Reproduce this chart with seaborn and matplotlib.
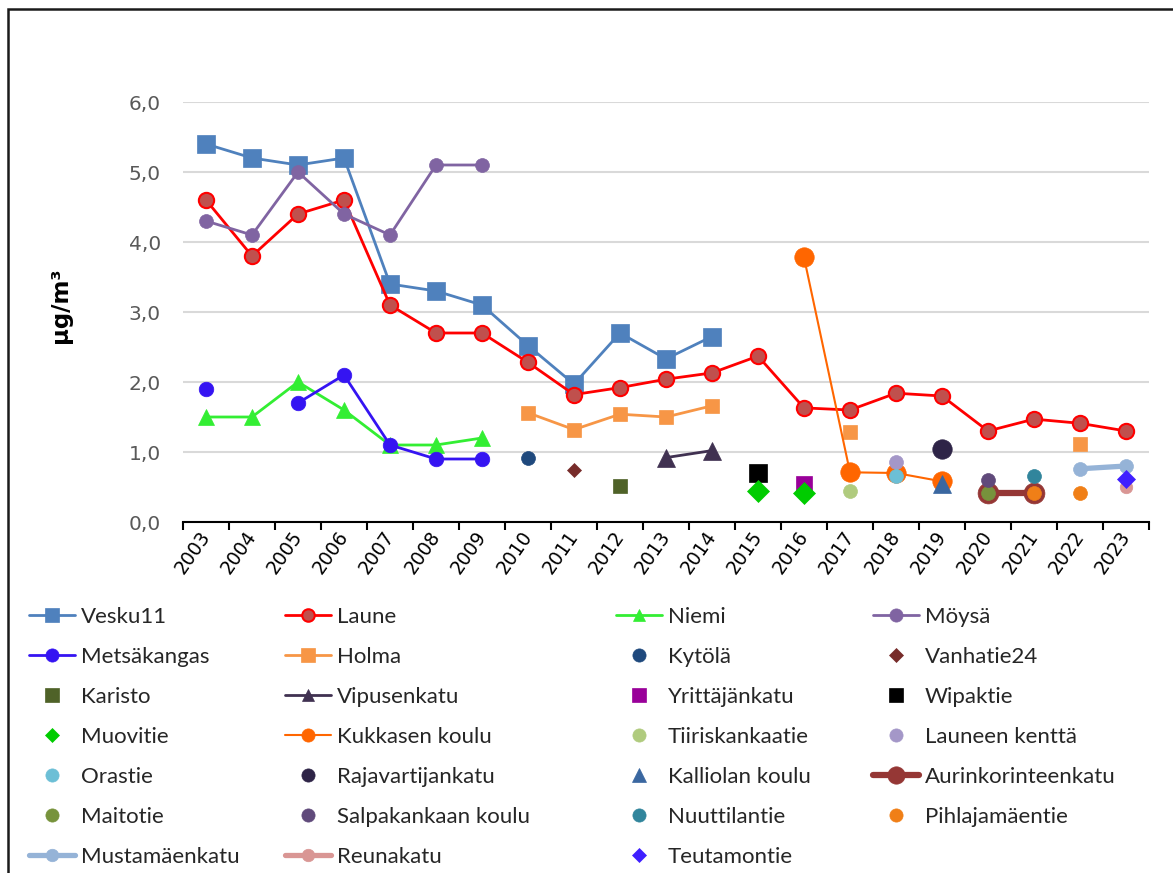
import numpy as np
import matplotlib.pyplot as plt
import seaborn as sns
from matplotlib.lines import Line2D
from matplotlib.patches import Rectangle
from matplotlib.ticker import FixedLocator, FuncFormatter

n = np.nan
years = list(range(2003, 2024))

# annual means, ug/m3 (one value per year 2003..2023, nan = no measurement)
vesku11 = [5.4, 5.2, 5.1, 5.2, 3.4, 3.3, 3.1, 2.52, 1.97, 2.7, 2.33, 2.65, n, n, n, n, n, n, n, n, n]
laune = [4.6, 3.8, 4.4, 4.6, 3.1, 2.7, 2.7, 2.28, 1.82, 1.92, 2.04, 2.13, 2.37, 1.63, 1.6, 1.84, 1.8, 1.3, 1.47, 1.41, 1.3]
niemi = [1.5, 1.5, 2.0, 1.6, 1.1, 1.1, 1.2, n, n, n, n, n, n, n, n, n, n, n, n, n, n]
moysa = [4.3, 4.1, 5.0, 4.4, 4.1, 5.1, 5.1, n, n, n, n, n, n, n, n, n, n, n, n, n, n]
metsakangas = [1.9, n, 1.7, 2.1, 1.1, 0.9, 0.9, n, n, n, n, n, n, n, n, n, n, n, n, n, n]
holma = [n, n, n, n, n, n, n, 1.56, 1.32, 1.54, 1.5, 1.66, n, n, 1.28, n, n, n, n, 1.12, n]
kytola = [n, n, n, n, n, n, n, 0.92, n, n, n, n, n, n, n, n, n, n, n, n, n]
vanhatie24 = [n, n, n, n, n, n, n, n, 0.74, n, n, n, n, n, n, n, n, n, n, n, n]
karisto = [n, n, n, n, n, n, n, n, n, 0.52, n, n, n, n, n, n, n, n, n, n, n]
vipusenkatu = [n, n, n, n, n, n, n, n, n, n, 0.92, 1.02, n, n, n, n, n, n, n, n, n]
yrittajankatu = [n, n, n, n, n, n, n, n, n, n, n, n, n, 0.54, n, n, n, n, n, n, n]
wipaktie = [n, n, n, n, n, n, n, n, n, n, n, n, 0.7, n, n, n, n, n, n, n, n]
muovitie = [n, n, n, n, n, n, n, n, n, n, n, n, 0.44, 0.42, n, n, n, n, n, n, n]
kukkasen = [n, n, n, n, n, n, n, n, n, n, n, n, n, 3.78, 0.71, 0.7, 0.58, n, n, n, n]
tiiriskankaatie = [n, n, n, n, n, n, n, n, n, n, n, n, n, n, 0.44, n, n, n, n, n, n]
launeen_kentta = [n, n, n, n, n, n, n, n, n, n, n, n, n, n, n, 0.86, n, n, n, n, n]
orastie = [n, n, n, n, n, n, n, n, n, n, n, n, n, n, n, 0.66, n, n, n, n, n]
rajavartijankatu = [n, n, n, n, n, n, n, n, n, n, n, n, n, n, n, n, 1.05, n, n, n, n]
kalliolan = [n, n, n, n, n, n, n, n, n, n, n, n, n, n, n, n, 0.55, n, n, n, n]
aurinkorinteenkatu = [n, n, n, n, n, n, n, n, n, n, n, n, n, n, n, n, n, 0.41, 0.41, n, n]
maitotie = [n, n, n, n, n, n, n, n, n, n, n, n, n, n, n, n, n, 0.41, n, n, n]
salpakankaan = [n, n, n, n, n, n, n, n, n, n, n, n, n, n, n, n, n, 0.6, n, n, n]
nuuttilantie = [n, n, n, n, n, n, n, n, n, n, n, n, n, n, n, n, n, n, 0.66, n, n]
pihlajamaentie = [n, n, n, n, n, n, n, n, n, n, n, n, n, n, n, n, n, n, 0.42, 0.41, n]
mustamaenkatu = [n, n, n, n, n, n, n, n, n, n, n, n, n, n, n, n, n, n, n, 0.76, 0.8]
reunakatu = [n, n, n, n, n, n, n, n, n, n, n, n, n, n, n, n, n, n, n, n, 0.5]
teutamontie = [n, n, n, n, n, n, n, n, n, n, n, n, n, n, n, n, n, n, n, n, 0.61]

# name, data, color, marker, markersize, linewidth, face, edge, legend markersize
series = [
    ("Vesku11", vesku11, "#4F81BD", "s", 13, 2, "#4F81BD", "#4F81BD", 9.5),
    ("Laune", laune, "#FF0000", "o", 11, 2, "#C0504D", "#FF0000", 9),
    ("Niemi", niemi, "#33EE33", "^", 12, 2, "#33EE33", "#33EE33", 9),
    ("Möysä", moysa, "#8064A2", "o", 10, 2, "#8064A2", "#8064A2", 9.5),
    ("Metsäkangas", metsakangas, "#3514F2", "o", 10.5, 2, "#3514F2", "#3514F2", 9.5),
    ("Holma", holma, "#F79646", "s", 10, 2, "#F79646", "#F79646", 9.5),
    ("Kytölä", kytola, "#1F497D", "o", 10, 0, "#1F497D", "#1F497D", 9.5),
    ("Vanhatie24", vanhatie24, "#772C2A", "D", 7.5, 0, "#772C2A", "#772C2A", 7),
    ("Karisto", karisto, "#4F6228", "s", 10, 0, "#4F6228", "#4F6228", 9.5),
    ("Vipusenkatu", vipusenkatu, "#403151", "^", 13, 2, "#403151", "#403151", 9),
    ("Yrittäjänkatu", yrittajankatu, "#990099", "s", 11, 0, "#990099", "#990099", 9.5),
    ("Wipaktie", wipaktie, "#000000", "s", 13, 0, "#000000", "#000000", 9.5),
    ("Muovitie", muovitie, "#00CC00", "D", 11, 0, "#00CC00", "#00CC00", 7.5),
    ("Kukkasen koulu", kukkasen, "#FF6600", "o", 14, 1.5, "#FF6600", "#FF6600", 9.5),
    ("Tiiriskankaatie", tiiriskankaatie, "#B0CB7E", "o", 10, 0, "#B0CB7E", "#B0CB7E", 9.5),
    ("Launeen kenttä", launeen_kentta, "#A497C8", "o", 10, 0, "#A497C8", "#A497C8", 9.5),
    ("Orastie", orastie, "#6CBFD6", "o", 10, 0, "#6CBFD6", "#6CBFD6", 9.5),
    ("Rajavartijankatu", rajavartijankatu, "#2E2447", "o", 14, 0, "#2E2447", "#2E2447", 9.5),
    ("Kalliolan koulu", kalliolan, "#3A67A0", "^", 13, 0, "#3A67A0", "#3A67A0", 9.5),
    ("Aurinkorinteenkatu", aurinkorinteenkatu, "#953735", "o", 15, 4.5, "#953735", "#953735", 12.5),
    ("Maitotie", maitotie, "#77933C", "o", 10, 0, "#77933C", "#77933C", 9.5),
    ("Salpakankaan koulu", salpakankaan, "#604A7B", "o", 10, 0, "#604A7B", "#604A7B", 9.5),
    ("Nuuttilantie", nuuttilantie, "#31859C", "o", 10, 0, "#31859C", "#31859C", 9.5),
    ("Pihlajamäentie", pihlajamaentie, "#F07F17", "o", 10, 0, "#F07F17", "#F07F17", 9.5),
    ("Mustamäenkatu", mustamaenkatu, "#95B3D7", "o", 10, 3.8, "#95B3D7", "#95B3D7", 9),
    ("Reunakatu", reunakatu, "#D99694", "o", 9, 3.8, "#D99694", "#D99694", 9),
    ("Teutamontie", teutamontie, "#3F1FFF", "D", 9, 0, "#3F1FFF", "#3F1FFF", 7),
]

sns.set_theme(style="white")
plt.rcParams["font.family"] = ["DejaVu Sans"]

W, H = 1173, 873
fig = plt.figure(figsize=(W / 100, H / 100), dpi=100)
ax = fig.add_axes([183 / W, 1 - 522 / H, 966 / W, 420 / H])

xpos = np.arange(len(years))
for i, (name, vals, col, mk, ms, lw, mfc, mec, lms) in enumerate(series):
    v = np.array(vals, dtype=float)
    idx = np.where(~np.isnan(v))[0]
    runs = np.split(idx, np.where(np.diff(idx) > 1)[0] + 1)
    for r in runs:
        sns.lineplot(x=xpos[r], y=v[r], ax=ax, color=col, linewidth=lw,
                     marker=mk, markersize=ms, markerfacecolor=mfc,
                     markeredgecolor=mec, markeredgewidth=1.5 if name == "Laune" else 0.5,
                     zorder=3 + i, legend=False)

ax.set_xlim(-0.5, len(years) - 0.5)
ax.set_ylim(0, 6)
ax.set_yticks(np.arange(0, 6.1, 1.0))
ax.yaxis.set_major_formatter(FuncFormatter(lambda v, p: f"{v:.1f}".replace(".", ",")))
ax.tick_params(axis="y", length=0, pad=16, labelsize=14.5, labelcolor="#595959")
ax.yaxis.grid(True, color="#D9D9D9", linewidth=1.5)
ax.set_axisbelow(True)

ax.xaxis.set_major_locator(FixedLocator(np.arange(-0.5, len(years), 1.0)))
ax.xaxis.set_minor_locator(FixedLocator(xpos))
ax.xaxis.set_major_formatter(FuncFormatter(lambda v, p: ""))
ax.set_xticks(xpos, [str(y) for y in years], minor=True)
ax.tick_params(axis="x", which="major", direction="out", length=6, width=1.5, color="black", bottom=True)
ax.tick_params(axis="x", which="minor", length=0, pad=8, labelsize=13.5, labelcolor="#000000", bottom=True)
for lab in ax.get_xticklabels(minor=True):
    lab.set_rotation(55)
    lab.set_ha("right")
    lab.set_va("center")
    lab.set_rotation_mode("anchor")

for s in ["left", "right", "top"]:
    ax.spines[s].set_visible(False)
ax.spines["bottom"].set_color("black")
ax.spines["bottom"].set_linewidth(1.5)

ax.set_ylabel("µg/m³", fontsize=16.5, fontweight="bold", color="black")
ax.yaxis.set_label_coords(-(183 - 72) / 966, (522 - 305) / 420)

# legend: four columns placed like the original
handles = []
for name, vals, col, mk, ms, lw, mfc, mec, lms in series:
    handles.append(Line2D([], [], color=col, linewidth=lw if lw > 0 else 0,
                          linestyle="-" if lw > 0 else "none", marker=mk,
                          markersize=lms, markerfacecolor=mfc, markeredgecolor=mec,
                          markeredgewidth=1.5 if name == "Laune" else 0.5))
labels = [s[0] for s in series]
col_x = [29, 285, 616, 873]
top_y = 607
for c in range(4):
    hs = handles[c::4]
    ls = labels[c::4]
    leg = fig.legend(hs, ls, loc="upper left", bbox_to_anchor=(col_x[c] / W, 1 - top_y / H),
                     frameon=False, borderpad=0, borderaxespad=0, handlelength=2.05,
                     handletextpad=0.28, labelspacing=0.9,
                     prop={"family": ["Lato", "DejaVu Sans"], "size": 16})

fig.patches.append(Rectangle((8 / W, -0.1), 1.2, 1.1 - 9 / H + 0.0, transform=fig.transFigure,
                             fill=False, edgecolor="#1a1a1a", linewidth=1.8, figure=fig))

fig.savefig("out.png", dpi=100)
